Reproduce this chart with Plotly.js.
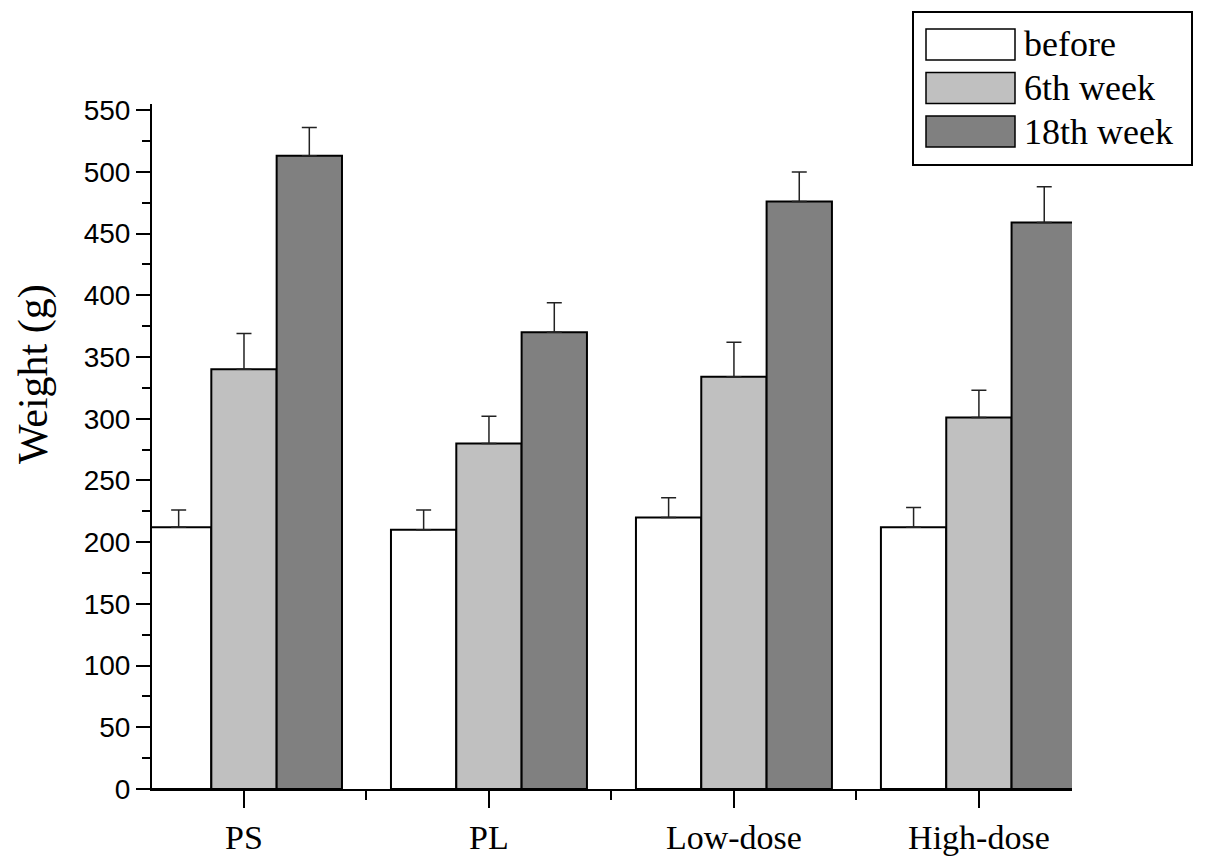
<!DOCTYPE html>
<html>
<head>
<meta charset="utf-8">
<script src="https://cdn.plot.ly/plotly-3.0.1.min.js"></script>
<style>html,body{margin:0;padding:0;background:#fff;}#chart{width:1205px;height:863px;}</style>
</head>
<body>
<div id="chart"></div>
<script>
const categories = ['PS', 'PL', 'Low-dose', 'High-dose'];
const seriesNames = ['before', '6th week', '18th week'];
const beforeValues = [212, 210, 220, 212];
const beforeErrors = [14, 16, 16, 16];
const week6Values = [340, 280, 334, 301];
const week6Errors = [29, 22, 28, 22];
const week18Values = [513, 370, 476, 459];
const week18Errors = [23, 24, 24, 29];
const yTickValues = [0, 50, 100, 150, 200, 250, 300, 350, 400, 450, 500, 550];

const colors = ['#ffffff', '#c0c0c0', '#808080'];
const serif = 'Liberation Serif, Times New Roman, serif';
const sans = 'Liberation Sans, Arial, sans-serif';

const W = 1205, H = 863;
const M = {l: 152, r: 133, t: 104, b: 74};
const PW = W - M.l - M.r, PH = H - M.t - M.b;
const px = x => (x - M.l) / PW;
const py = y => (H - M.b - y) / PH;

const xIdx = categories.map((c, i) => i);
const valueSets = [beforeValues, week6Values, week18Values];
const errorSets = [beforeErrors, week6Errors, week18Errors];

const traces = seriesNames.map((name, s) => ({
  type: 'bar',
  name: name,
  x: xIdx,
  y: valueSets[s],
  marker: {color: colors[s], line: {color: '#000', width: 2}},
  error_y: {
    type: 'data', symmetric: false,
    array: errorSets[s],
    arrayminus: errorSets[s].map(() => 0),
    color: '#222', thickness: 1.5, width: 7.5
  },
  showlegend: false,
  hoverinfo: 'skip'
}));

const shapes = [];
const annotations = [];
// custom legend
shapes.push({type: 'rect', xref: 'paper', yref: 'paper',
  x0: px(913), x1: px(1192), y0: py(165), y1: py(12),
  line: {color: '#000', width: 2}, fillcolor: 'rgba(0,0,0,0)'});
const rowTops = [29, 72.5, 116];
seriesNames.forEach((name, s) => {
  const top = rowTops[s], bot = top + 31;
  shapes.push({type: 'rect', xref: 'paper', yref: 'paper',
    x0: px(926), x1: px(1015), y0: py(bot), y1: py(top),
    line: {color: '#000', width: 1.5}, fillcolor: colors[s]});
  annotations.push({xref: 'paper', yref: 'paper', x: px(1022), y: py((top + bot) / 2),
    xanchor: 'left', yanchor: 'middle', text: name, showarrow: false,
    font: {family: serif, size: 36, color: '#000'}});
});
// y axis title
annotations.push({xref: 'paper', yref: 'paper', x: px(33), y: py(374),
  xanchor: 'center', yanchor: 'middle', text: 'Weight (g)', textangle: -90,
  showarrow: false, font: {family: serif, size: 42, color: '#000'}});

const layout = {
  width: W, height: H,
  margin: M,
  paper_bgcolor: '#fff', plot_bgcolor: '#fff',
  barmode: 'group', bargap: 0.2, bargroupgap: 0,
  showlegend: false,
  xaxis: {
    type: 'linear', range: [-0.3755, 3.38],
    tickmode: 'array', tickvals: xIdx, ticktext: categories,
    ticks: 'outside', ticklen: 17, tickwidth: 2, tickcolor: '#000',
    minor: {tick0: 0.5, dtick: 1, ticks: 'outside', ticklen: 9, tickwidth: 2, tickcolor: '#000'},
    showline: true, linecolor: '#000', linewidth: 2,
    showgrid: false, zeroline: false,
    tickfont: {family: serif, size: 34, color: '#000'}
  },
  yaxis: {
    range: [0, 555],
    tickmode: 'array', tickvals: yTickValues,
    ticks: 'outside', ticklen: 14, tickwidth: 2, tickcolor: '#000',
    minor: {tick0: 25, dtick: 50, ticks: 'outside', ticklen: 8, tickwidth: 2, tickcolor: '#000'},
    showline: true, linecolor: '#000', linewidth: 2,
    showgrid: false, zeroline: false,
    ticklabelstandoff: 0,
    tickfont: {family: sans, size: 28, color: '#000'}
  },
  shapes: shapes,
  annotations: annotations
};

Plotly.newPlot('chart', traces, layout, {displayModeBar: false, staticPlot: true});
</script>
</body>
</html>
